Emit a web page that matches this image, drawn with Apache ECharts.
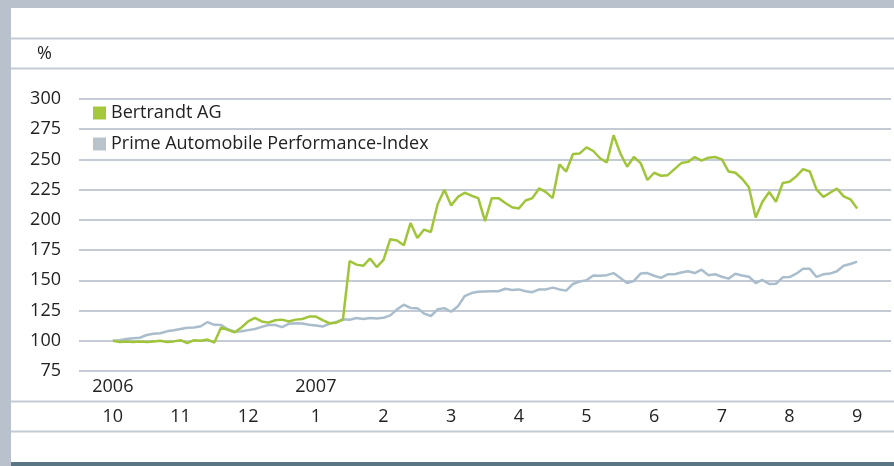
<!DOCTYPE html>
<html>
<head>
<meta charset="utf-8">
<script src="https://cdn.jsdelivr.net/npm/echarts@6/dist/echarts.min.js"></script>
<style>
  html, body { margin: 0; padding: 0; background: #fff; }
  #chart { width: 894px; height: 466px; }
</style>
</head>
<body>
<div id="chart"></div>
<script>
// Monatsbeschriftung (Geschaeftsjahr Okt 2006 - Sep 2007)
const months = ['10', '11', '12', '1', '2', '3', '4', '5', '6', '7', '8', '9']
const years = ['2006', '', '', '2007']
const yTicks = { min: 75, max: 300, step: 25 }

// Indexwerte, 10 Werte je Monatsabstand
const bertrandt = [
  100, 99, 99.5, 99, 99.5, 99, 99.5, 100, 99, 99.5,
  100.5, 98, 100.5, 100, 101, 98.5, 111, 109, 107, 111,
  116, 119, 116, 115, 117, 117.5, 116, 117.5, 118, 120,
  120, 117, 114.5, 115, 117.5, 166, 163, 162, 168, 161,
  167, 184, 183, 179, 197.5, 185, 192, 190, 213, 225,
  212, 219, 222.5, 220, 218, 199, 218, 218, 214, 210.5,
  209.5, 216, 218, 226, 223, 218, 246, 240, 254.5, 255,
  260, 257, 251, 247.5, 270, 255, 244, 252, 247, 233,
  239, 236.5, 237, 242, 247, 248, 252, 249, 251.5, 252,
  250, 240, 239, 234, 227, 202, 215, 223, 215, 230.5,
  231.5, 236, 242, 240, 225, 219, 222.5, 226, 219.5, 217,
  209.5
]
const primeIndex = [
  100, 100.5, 101.4, 102, 102.5, 104.8, 105.8, 106.2, 107.8, 108.7,
  109.8, 110.8, 111, 112, 115.5, 113.2, 113, 109.5, 107.5, 107.8,
  108.8, 109.8, 111.5, 113, 113, 111.3, 114, 114.4, 114.3, 113.3,
  112.6, 111.8, 114, 115.5, 117.8, 117.4, 118.8, 118, 118.9, 118.5,
  119, 121, 126, 129.8, 127.2, 127, 122.5, 120.5, 126, 127,
  124, 128.5, 137, 139.5, 140.5, 140.8, 141, 141, 143, 142,
  142.5, 141, 140.2, 142.5, 142.5, 144, 142.5, 141.5, 147, 149,
  150, 154, 153.8, 154.3, 156, 152, 147.8, 149.5, 155.6, 156,
  153.8, 152, 155, 155, 156.5, 157.5, 156, 158.8, 154.3, 155,
  153, 151.4, 155.4, 154, 153, 147.8, 150.3, 147, 147.2, 152.5,
  152.7, 155.5, 159.5, 159.5, 152.8, 155, 155.6, 157.5, 162, 163.5,
  165.5
]

const perMonth = 10
const pad = 5 // leere Plaetze links und rechts der Linien
const slots = bertrandt.length + pad * 2

// Kategorien fuer die Achsen
const monthCats = []
const yearCats = []
for (let s = 0; s < slots; s++) {
  const d = s - pad
  const onMonth = d >= 0 && d % perMonth === 0
  monthCats.push(onMonth ? months[d / perMonth] || '' : '')
  yearCats.push(onMonth ? years[d / perMonth] || '' : '')
}
const padded = arr => new Array(pad).fill(null).concat(arr, new Array(pad).fill(null))

const font = '"Open Sans", "Noto Sans", sans-serif'
const textColor = '#222'
const fs = 18
const frame = '#b9c2cc'
const rule = '#c4cbd4'

const chart = echarts.init(document.getElementById('chart'))
chart.setOption({
  animation: false,
  backgroundColor: '#fff',
  textStyle: { fontFamily: font, color: textColor },
  graphic: [
    { type: 'rect', shape: { x: 0, y: 0, width: 894, height: 8 }, style: { fill: frame }, silent: true },
    { type: 'rect', shape: { x: 0, y: 0, width: 11, height: 466 }, style: { fill: frame }, silent: true },
    { type: 'rect', shape: { x: 11, y: 462, width: 883, height: 4 }, style: { fill: '#5a7684' }, silent: true },
    { type: 'line', shape: { x1: 11, y1: 38.5, x2: 894, y2: 38.5 }, style: { stroke: rule, lineWidth: 2 }, silent: true },
    { type: 'line', shape: { x1: 11, y1: 68.5, x2: 894, y2: 68.5 }, style: { stroke: rule, lineWidth: 2 }, silent: true },
    { type: 'line', shape: { x1: 11, y1: 401.5, x2: 894, y2: 401.5 }, style: { stroke: rule, lineWidth: 2 }, silent: true },
    { type: 'line', shape: { x1: 11, y1: 431.5, x2: 894, y2: 431.5 }, style: { stroke: rule, lineWidth: 2 }, silent: true }
  ],
  legend: {
    orient: 'vertical',
    left: 93,
    top: 103,
    padding: 0,
    itemGap: 11,
    itemWidth: 13,
    itemHeight: 13,
    icon: 'rect',
    textStyle: { fontFamily: font, fontSize: fs, color: textColor, lineHeight: 20 },
    data: [
      { name: 'Bertrandt AG', itemStyle: { color: '#a5c83c' } },
      { name: 'Prime Automobile Performance-Index', itemStyle: { color: '#b9c3cc' } }
    ]
  },
  grid: { left: 79, right: 0, top: 99, bottom: 95 },
  xAxis: [
    {
      type: 'category',
      data: monthCats,
      boundaryGap: false,
      axisLine: { show: false },
      axisTick: { show: false },
      splitLine: { show: false },
      axisLabel: { interval: 0, margin: 36, fontSize: fs, lineHeight: 20, color: textColor, fontFamily: font }
    },
    {
      type: 'category',
      data: yearCats,
      position: 'bottom',
      boundaryGap: false,
      axisLine: { show: false },
      axisTick: { show: false },
      splitLine: { show: false },
      axisLabel: { interval: 0, margin: 6, fontSize: fs, lineHeight: 20, color: textColor, fontFamily: font }
    }
  ],
  yAxis: {
    type: 'value',
    min: yTicks.min,
    max: yTicks.max,
    interval: yTicks.step,
    name: '%',
    nameLocation: 'end',
    nameGap: 36,
    nameTextStyle: { fontSize: fs, color: textColor, fontFamily: font, align: 'right', padding: [0, 27, 0, 0] },
    axisLine: { show: false },
    axisTick: { show: false },
    axisLabel: { margin: 18, fontSize: fs, color: textColor, fontFamily: font },
    splitLine: { lineStyle: { color: rule, width: 2 } }
  },
  series: [
    {
      name: 'Bertrandt AG',
      type: 'line',
      data: padded(bertrandt),
      showSymbol: false,
      itemStyle: { color: '#a5c83c' },
      lineStyle: { color: '#a0c53a', width: 2.5 },
      emphasis: { disabled: true },
      z: 3
    },
    {
      name: 'Prime Automobile Performance-Index',
      type: 'line',
      data: padded(primeIndex),
      showSymbol: false,
      itemStyle: { color: '#b9c3cc' },
      lineStyle: { color: '#aabdcc', width: 2.5 },
      emphasis: { disabled: true },
      z: 2
    }
  ]
})
</script>
</body>
</html>
